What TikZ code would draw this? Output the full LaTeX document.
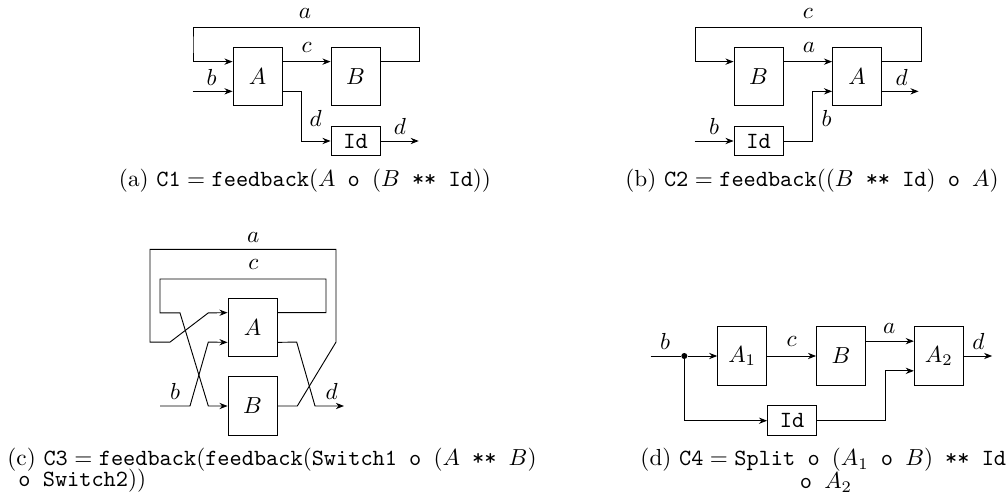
\documentclass[tikz,border=0pt]{standalone}
\usetikzlibrary{arrows.meta,calc}
\begin{document}
\begin{tikzpicture}[x=0.431pt,y=-0.431pt,
  blk/.style={draw, minimum width=21.1pt, minimum height=25.2pt, inner sep=0pt},
  idblk/.style={draw, minimum width=21.1pt, minimum height=12.9pt, inner sep=0pt},
  conn/.style={-{Stealth[length=3.5pt,width=2.7pt]}},
  lbl/.style={inner sep=0pt},
  captxt/.style={inner sep=0pt}]
\useasboundingbox (0,0) rectangle (1008,500);

% ---------------- (a)
\node[blk] (aA) at (257.5,76.5) {$A$};
\node[blk] (aB) at (355.5,76.5) {$B$};
\node[idblk] (aId) at (355.5,141) {\texttt{Id}};
\coordinate (aAi1) at ($(aA.north west)!.25!(aA.south west)$);
\coordinate (aAi2) at ($(aA.north west)!.75!(aA.south west)$);
\coordinate (aAo1) at ($(aA.north east)!.25!(aA.south east)$);
\coordinate (aAo2) at ($(aA.north east)!.75!(aA.south east)$);
\coordinate (aBi1) at ($(aB.north west)!.25!(aB.south west)$);
\coordinate (aBo1) at ($(aB.north east)!.25!(aB.south east)$);
\coordinate (aIn) at ($(aAi2)+(-40,0)$);
\coordinate (aOut) at ($(aId.east)+(38.3,0)$);
\draw[conn] (aBo1) -| (419,27) -| (193,45) |- (aAi1);
\draw[conn] (aIn) -- (aAi2);
\draw[conn] (aAo1) -- (aBi1);
\draw[conn] (aAo2) -| (301.7,110) |- (aId.west);
\draw[conn] (aId.east) -- (aOut);
\node[lbl] (aLa) at (305,13.3) {$a$};
\node[lbl] (aLb) at (211.7,77) {$b$};
\node[lbl] (aLc) at (306.7,48) {$c$};
\node[lbl] (aLd1) at (315.7,118) {$d$};
\node[lbl] (aLd2) at (400,126.7) {$d$};
\node[captxt, anchor=base] (aCap) at (305,187)
  {(a) $\texttt{C1} = \texttt{feedback}(A\texttt{ o }(B\texttt{ ** Id}))$};

% ---------------- (b)
\node[blk] (bB) at (758.5,76.5) {$B$};
\node[blk] (bA) at (857,76.5) {$A$};
\node[idblk] (bId) at (758.5,141) {\texttt{Id}};
\coordinate (bAi1) at ($(bA.north west)!.25!(bA.south west)$);
\coordinate (bAi2) at ($(bA.north west)!.75!(bA.south west)$);
\coordinate (bAo1) at ($(bA.north east)!.25!(bA.south east)$);
\coordinate (bAo2) at ($(bA.north east)!.75!(bA.south east)$);
\coordinate (bBi1) at ($(bB.north west)!.25!(bB.south west)$);
\coordinate (bBo1) at ($(bB.north east)!.25!(bB.south east)$);
\coordinate (bIn) at ($(bId.west)+(-39,0)$);
\coordinate (bOut) at ($(bAo2)+(36.6,0)$);
\draw[conn] (bAo1) -| (921,27) -| (695,45) |- (bBi1);
\draw[conn] (bBo1) -- (bAi1);
\draw[conn] (bIn) -- (bId.west);
\draw[conn] (bId.east) -| (812.3,110) |- (bAi2);
\draw[conn] (bAo2) -- (bOut);
\node[lbl] (bLc) at (808,13.3) {$c$};
\node[lbl] (bLa) at (809,48) {$a$};
\node[lbl] (bLb1) at (714,126) {$b$};
\node[lbl] (bLb2) at (826.7,118) {$b$};
\node[lbl] (bLd) at (901.7,77) {$d$};
\node[captxt, anchor=base] (bCap) at (812,187)
  {(b) $\texttt{C2} = \texttt{feedback}((B\texttt{ ** Id})\texttt{ o }A)$};

% ---------------- (c)
\node[blk] (cA) at (252.5,327.5) {$A$};
\node[blk] (cB) at (252.5,406) {$B$};
\coordinate (cAi1) at ($(cA.north west)!.25!(cA.south west)$);
\coordinate (cAi2) at ($(cA.north west)!.75!(cA.south west)$);
\coordinate (cAo1) at ($(cA.north east)!.25!(cA.south east)$);
\coordinate (cAo2) at ($(cA.north east)!.75!(cA.south east)$);
\coordinate (cIn) at (160,406);
\coordinate (cOut) at (344,406);
% inner loop c
\draw[conn] (cAo1) -| (326,279) -| (160,300) |- (180,312.9) -- (208.3,406) -- (cB.west);
% outer loop a
\draw[conn] (cB.east) -- (297.3,406) -- (336,342.1) -- (336,249.3) -- (150,249.3)
  -- (150,342.1) -- (170,342.1) -- (208.3,312.9) -- (cAi1);
% input b
\draw[conn] (cIn) -- (190,406) -- (208.3,342.1) -- (cAi2);
% output d
\draw[conn] (cAo2) -- (296.7,342.1) -- (315,406) -- (cOut);
\node[lbl] (cLa) at (253.3,237.3) {$a$};
\node[lbl] (cLc) at (253.3,265) {$c$};
\node[lbl] (cLb) at (175,391.7) {$b$};
\node[lbl] (cLd) at (331.7,391.7) {$d$};
\node[captxt, anchor=base west] (cCap1) at (7,465)
  {(c) $\texttt{C3} = \texttt{feedback}(\texttt{feedback}(\texttt{Switch1 o }(A\texttt{ ** }B)$};
\node[captxt, anchor=base west] (cCap2) at (18,487) {\texttt{o Switch2}$))$};

% ---------------- (d)
\node[blk] (dA1) at (742.2,356) {$A_1$};
\node[blk] (dB) at (841,356) {$B$};
\node[blk] (dA2) at (938.8,356) {$A_2$};
\node[idblk] (dId) at (792,420.7) {\texttt{Id}};
\node[circle, fill, inner sep=0pt, minimum size=2.6pt] (dDot) at (684.3,356) {};
\coordinate (dBo1) at ($(dB.north east)!.25!(dB.south east)$);
\coordinate (dA2i1) at ($(dA2.north west)!.25!(dA2.south west)$);
\coordinate (dA2i2) at ($(dA2.north west)!.75!(dA2.south west)$);
\coordinate (dIn) at ($(dDot)+(-33.6,0)$);
\coordinate (dOut) at ($(dA2.east)+(28.4,0)$);
\draw (dIn) -- (dDot);
\draw[conn] (dDot) -- (dA1.west);
\draw[conn] (dDot) |- (dId.west);
\draw[conn] (dA1.east) -- (dB.west);
\draw[conn] (dBo1) -- (dA2i1);
\draw[conn] (dId.east) -| (885,400) |- (dA2i2);
\draw[conn] (dA2.east) -- (dOut);
\node[lbl] (dLb) at (665,341.7) {$b$};
\node[lbl] (dLc) at (791.7,341.7) {$c$};
\node[lbl] (dLa) at (889.3,328.3) {$a$};
\node[lbl] (dLd) at (978.3,341.7) {$d$};
\node[captxt, anchor=base west] (dCap1) at (640,466)
  {(d) $\texttt{C4} = \texttt{Split o }(A_1\texttt{ o }B)\texttt{ ** Id}$};
\node[captxt, anchor=base] (dCap2) at (826,489) {\texttt{o }$A_2$};
\end{tikzpicture}
\end{document}
